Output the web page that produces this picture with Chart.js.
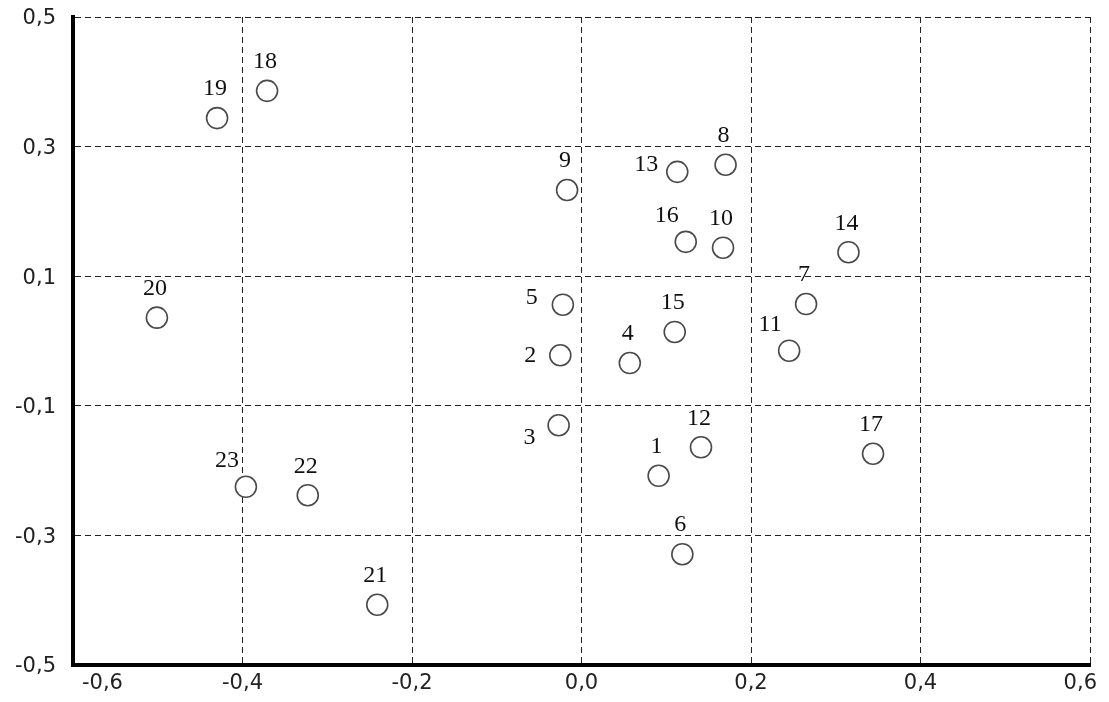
<!DOCTYPE html>
<html>
<head>
<meta charset="utf-8">
<script src="https://cdn.jsdelivr.net/npm/chart.js"></script>
<style>
  html, body { margin: 0; padding: 0; background: #fff; }
  #wrap { width: 1109px; height: 702px; }
</style>
</head>
<body>
<div id="wrap"><canvas id="scatterChart"></canvas></div>
<script>
// ---- data ----
const pointNames = ["1","2","3","4","5","6","7","8","9","10","11","12",
                    "13","14","15","16","17","18","19","20","21","22","23"];
const xValues = [0.091, -0.025, -0.027, 0.057, -0.022, 0.119, 0.265, 0.170,
                 -0.017, 0.167, 0.245, 0.141, 0.113, 0.315, 0.110, 0.123,
                 0.344, -0.371, -0.430, -0.501, -0.241, -0.323, -0.396];
const yValues = [-0.208, -0.022, -0.130, -0.034, 0.056, -0.329, 0.057, 0.272,
                 0.233, 0.144, -0.015, -0.164, 0.261, 0.137, 0.014, 0.153,
                 -0.174, 0.386, 0.344, 0.036, -0.407, -0.238, -0.225];
const xTicks = [-0.6, -0.4, -0.2, 0.0, 0.2, 0.4, 0.6];
const yTicks = [-0.5, -0.3, -0.1, 0.1, 0.3, 0.5];

// where each number sits relative to its circle
const labelPlacement = ["top","left","lowleft","top","upleft","top","top","top",
                        "top","top","topleft","top","upleft","top","top","topleft",
                        "top","top","top","top","top","top","topleft"];
const placementOffset = {
    top: [-2, -29],
    left: [-30, 0],
    upleft: [-31, -7],
    lowleft: [-29, 12],
    topleft: [-19, -26]
};

const fmt = v => Number(v).toFixed(1).replace(".", ",");
const tickFont = { family: "DejaVu Sans", size: 21 };

// numbers next to the circles
const pointNamePlugin = {
    id: "pointNames",
    afterDatasetsDraw(chart) {
        const ctx = chart.ctx;
        const meta = chart.getDatasetMeta(0);
        ctx.save();
        ctx.font = "24px 'Liberation Serif', serif";
        ctx.fillStyle = "#111";
        ctx.textAlign = "center";
        ctx.textBaseline = "middle";
        meta.data.forEach((pt, i) => {
            const off = placementOffset[labelPlacement[i]];
            ctx.fillText(pointNames[i], pt.x + off[0], pt.y + off[1]);
        });
        ctx.restore();
    }
};

// x tick labels, kept inside the plot edges like the original
const xLabelPlugin = {
    id: "xLabels",
    afterDraw(chart) {
        const ctx = chart.ctx;
        const xs = chart.scales.x;
        const area = chart.chartArea;
        ctx.save();
        ctx.font = tickFont.size + "px '" + tickFont.family + "'";
        ctx.fillStyle = "#222";
        ctx.textAlign = "left";
        ctx.textBaseline = "middle";
        xTicks.forEach(v => {
            const text = fmt(v);
            const w = ctx.measureText(text).width;
            let left = xs.getPixelForValue(v) - w / 2;
            if (left < area.left + 9) left = area.left + 9;
            if (left + w > area.right + 7) left = area.right + 7 - w;
            ctx.fillText(text, left, area.bottom + 19);
        });
        ctx.restore();
    }
};

new Chart(document.getElementById("scatterChart"), {
    type: "scatter",
    data: {
        datasets: [{
            data: xValues.map((x, i) => ({ x: x, y: yValues[i] })),
            pointRadius: 10.5,
            pointHoverRadius: 10.5,
            pointBorderWidth: 1.6,
            pointBorderColor: "#4a4a4a",
            pointBackgroundColor: "#fff"
        }]
    },
    options: {
        responsive: true,
        maintainAspectRatio: false,
        animation: false,
        events: [],
        layout: { padding: { top: 17, right: 19, left: 0, bottom: 0 } },
        plugins: {
            legend: { display: false },
            tooltip: { enabled: false }
        },
        scales: {
            x: {
                type: "linear",
                min: -0.6,
                max: 0.6,
                afterBuildTicks: s => { s.ticks = xTicks.map(v => ({ value: v })); },
                afterFit: s => { s.height = 37; s.paddingLeft = 0; s.paddingRight = 0; },
                grid: { color: "#222", lineWidth: 1, drawTicks: false },
                border: { display: true, width: 4, color: "#000", dash: [6, 4] },
                ticks: { display: false }
            },
            y: {
                type: "linear",
                min: -0.5,
                max: 0.5,
                afterBuildTicks: s => { s.ticks = yTicks.map(v => ({ value: v })); },
                afterFit: s => { s.width = 73; s.paddingTop = 0; s.paddingBottom = 0; },
                grid: { color: "#222", lineWidth: 1, drawTicks: false },
                border: { display: true, width: 4, color: "#000", dash: [6, 4] },
                ticks: {
                    padding: 17,
                    labelOffset: 2,
                    color: "#222",
                    font: tickFont,
                    callback: v => fmt(v)
                }
            }
        }
    },
    plugins: [pointNamePlugin, xLabelPlugin]
});
</script>
</body>
</html>
